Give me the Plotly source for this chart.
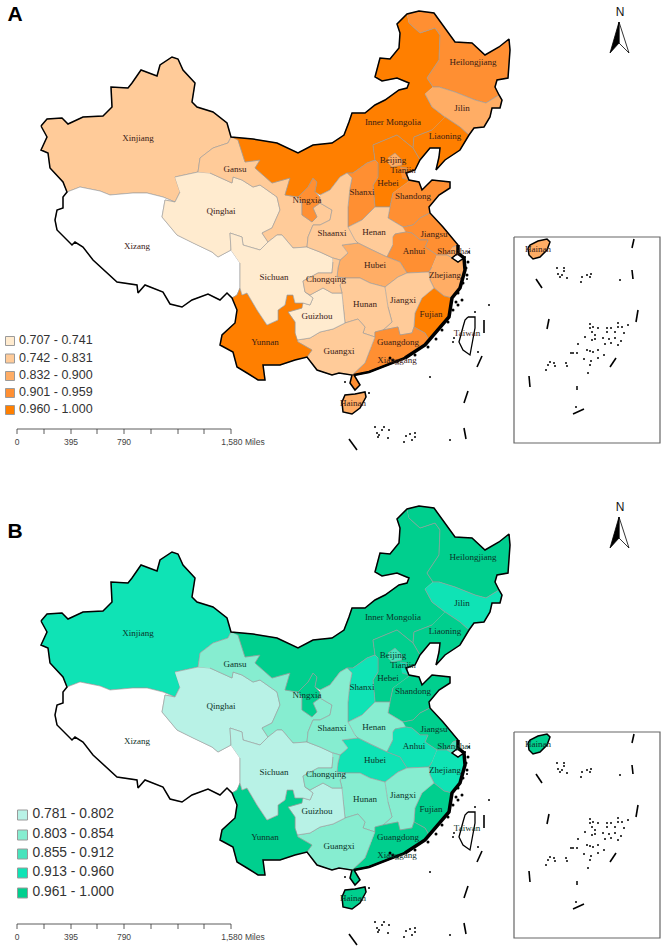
import plotly.graph_objects as go

# outlines, in map units (panel A pixels, panel B is the same map)
XINJIANG = [(41,126),(47,119),(62,118),(68,124),(83,117),(103,116),(112,107),(111,87),(128,88),(132,83),(141,70),(157,76),(160,65),(172,57),(178,59),(183,70),(195,83),(192,102),(197,107),(213,112),(227,123),(231,137),(228,143),(213,148),(200,158),(198,172),(175,177),(180,192),(175,202),(163,197),(147,193),(133,193),(110,195),(100,191),(80,187),(67,192),(63,182),(50,168),(48,153),(41,150),(47,137)]
XIZANG = [(67,192),(80,187),(100,191),(110,195),(133,193),(147,193),(163,197),(175,202),(165,200),(162,217),(177,235),(193,243),(212,252),(218,257),(231,250),(240,263),(240,288),(237,295),(232,298),(227,293),(220,300),(208,294),(192,300),(182,307),(170,304),(163,292),(145,285),(138,293),(137,285),(117,282),(100,267),(93,260),(83,247),(75,242),(72,245),(57,230),(55,220),(57,210),(63,208),(63,197)]
QINGHAI = [(175,177),(198,172),(210,173),(232,183),(233,177),(242,180),(253,187),(260,185),(277,197),(280,210),(272,228),(262,233),(268,242),(260,250),(243,245),(242,237),(230,233),(231,250),(218,257),(212,252),(193,243),(177,235),(162,217),(165,200),(175,202),(180,192)]
GANSU = [(198,172),(200,158),(213,148),(228,143),(231,137),(238,140),(245,162),(260,160),(255,168),(272,183),(290,178),(285,195),(298,197),(302,202),(302,215),(312,222),(317,217),(313,208),(320,203),(332,210),(330,220),(320,225),(313,225),(308,237),(307,247),(293,248),(282,235),(277,235),(268,242),(262,233),(272,228),(280,210),(277,197),(260,185),(253,187),(242,180),(233,177),(232,183),(210,173)]
NINGXIA = [(298,197),(308,187),(313,178),(317,182),(315,192),(320,197),(320,203),(313,208),(317,217),(312,222),(302,215),(302,202)]
INNER_MONGOLIA = [(231,137),(253,139),(277,143),(298,153),(313,145),(332,143),(344,135),(349,122),(352,113),(365,113),(375,105),(385,100),(399,90),(407,88),(409,83),(397,78),(382,81),(375,77),(380,58),(390,59),(399,48),(400,33),(397,24),(407,14),(409,23),(420,33),(435,28),(440,35),(439,60),(427,78),(433,87),(425,94),(432,107),(445,117),(432,130),(414,137),(413,148),(397,135),(373,145),(375,160),(367,163),(353,173),(347,173),(340,177),(330,190),(320,195),(315,192),(317,182),(313,178),(308,187),(298,197),(285,195),(290,178),(272,183),(255,168),(260,160),(245,162),(238,140)]
HEILONGJIANG = [(407,14),(419,11),(434,13),(445,28),(455,42),(472,43),(485,55),(499,47),(509,39),(510,50),(508,78),(497,80),(495,87),(499,95),(486,103),(475,100),(455,92),(439,87),(433,87),(427,78),(439,60),(440,35),(435,28),(420,33),(409,23)]
JILIN = [(433,87),(439,87),(455,92),(475,100),(486,103),(499,95),(502,100),(500,108),(492,108),(490,117),(484,127),(474,128),(469,135),(460,127),(445,117),(432,107),(425,94)]
LIAONING = [(445,117),(460,127),(469,135),(460,150),(445,160),(436,170),(439,157),(440,148),(430,148),(420,160),(413,148),(414,137),(432,130)]
HEBEI = [(375,160),(373,145),(397,135),(413,148),(420,160),(415,170),(406,173),(409,180),(408,182),(393,193),(390,207),(375,207),(373,185),(378,177),(378,163)]
BEIJING = [(388,158),(395,153),(402,160),(402,165),(392,167),(388,163)]
TIANJIN = [(400,167),(407,168),(406,173),(409,180),(402,178)]
SHANXI = [(347,173),(353,173),(367,163),(375,160),(378,163),(378,177),(373,185),(375,207),(362,220),(348,227),(348,207),(350,188),(352,178)]
SHANDONG = [(408,182),(409,180),(419,182),(422,190),(432,180),(450,182),(450,188),(439,195),(429,207),(430,213),(420,218),(413,225),(403,227),(388,218),(390,207),(393,193)]
HENAN = [(348,227),(362,220),(375,207),(390,207),(388,218),(403,227),(406,232),(395,234),(393,237),(393,245),(387,257),(372,250),(358,243),(355,240)]
JIANGSU = [(403,227),(413,225),(420,218),(430,213),(443,227),(452,238),(458,245),(453,247),(447,255),(437,255),(425,247),(428,240),(420,240),(412,233),(406,232)]
SHANGHAI = [(453,247),(458,245),(458,253),(452,258),(447,255)]
ANHUI = [(393,237),(395,234),(406,232),(412,233),(420,240),(428,240),(425,247),(437,255),(432,267),(429,272),(407,273),(400,262),(387,257),(393,245)]
HUBEI = [(342,245),(358,243),(372,250),(387,257),(400,262),(407,273),(398,277),(385,287),(370,283),(360,278),(345,278),(337,277),(338,268),(340,260),(348,253)]
ZHEJIANG = [(437,255),(447,255),(452,258),(458,262),(464,258),(465,270),(460,288),(452,298),(444,296),(434,288),(430,280),(429,272),(432,267)]
FUJIAN = [(434,288),(444,296),(452,298),(449,317),(435,333),(429,340),(425,333),(414,327),(415,313),(422,298)]
JIANGXI = [(385,287),(398,277),(407,273),(429,272),(430,280),(434,288),(422,298),(415,313),(414,327),(412,333),(400,335),(398,327),(383,330),(392,322),(388,307)]
HUNAN = [(342,293),(340,285),(345,278),(360,278),(370,283),(385,287),(388,307),(392,322),(383,330),(375,332),(375,337),(363,333),(365,327),(358,319),(345,323),(343,305)]
GUANGDONG = [(375,337),(375,332),(383,330),(398,327),(400,335),(412,333),(414,327),(425,333),(429,340),(425,345),(405,358),(392,363),(382,367),(369,372),(354,375),(360,385),(355,390),(350,383),(352,375),(365,363),(370,350)]
GUANGXI = [(297,340),(310,338),(320,332),(333,329),(345,323),(358,319),(365,327),(363,333),(375,337),(370,350),(365,363),(352,375),(339,373),(332,375),(317,370),(307,357),(312,350),(298,342)]
GUIZHOU = [(303,303),(310,305),(313,298),(305,292),(310,295),(323,288),(332,293),(342,293),(343,305),(345,323),(333,329),(320,332),(310,338),(297,340),(295,333),(295,322),(288,312),(302,308)]
YUNNAN = [(232,298),(237,295),(240,288),(242,295),(247,293),(257,310),(267,325),(278,320),(278,310),(285,305),(287,295),(293,295),(295,303),(303,303),(302,308),(288,312),(295,322),(295,333),(298,342),(312,350),(307,357),(295,360),(280,365),(263,365),(265,380),(258,380),(247,373),(237,367),(233,352),(220,345),(222,335),(235,323),(237,310)]
SICHUAN = [(231,250),(230,233),(242,237),(243,245),(260,250),(268,242),(277,235),(282,235),(293,248),(307,247),(320,252),(333,258),(333,262),(332,273),(318,273),(303,281),(305,292),(313,298),(310,305),(303,303),(295,303),(293,295),(287,295),(285,305),(278,310),(278,320),(267,325),(257,310),(247,293),(242,295),(240,288),(240,263)]
SHAANXI = [(320,195),(330,190),(340,177),(347,173),(352,178),(350,188),(348,207),(348,227),(355,240),(358,243),(342,245),(348,253),(340,260),(333,258),(320,252),(307,247),(308,237),(313,225),(320,225),(330,220),(332,210),(320,203),(320,197)]
CHONGQING = [(333,258),(340,260),(338,268),(337,277),(345,278),(340,285),(342,293),(332,293),(323,288),(310,295),(305,292),(303,281),(318,273),(332,273),(333,262)]
HAINAN = [(342,402),(345,395),(355,394),(365,392),(366,397),(360,408),(352,414),(343,412)]
HAINAN_INSET = [(528,248),(530,245),(538,241),(547,239),(550,242),(547,250),(540,257),(533,259),(529,255)]
TAIWAN = [(468,317),(475,317),(475,328),(470,355),(463,350),(459,342),(463,327),(465,320),(468,317)]

NATIONAL_BORDER = [(41,126),(47,119),(62,118),(68,124),(83,117),(103,116),(112,107),(111,87),(128,88),(132,83),(141,70),(157,76),(160,65),(172,57),(178,59),(183,70),(195,83),(192,102),(197,107),(213,112),(227,123),(231,137),(253,139),(277,143),(298,153),(313,145),(332,143),(344,135),(349,122),(352,113),(365,113),(375,105),(385,100),(399,90),(407,88),(409,83),(397,78),(382,81),(375,77),(380,58),(390,59),(399,48),(400,33),(397,24),(407,14),(419,11),(434,13),(445,28),(455,42),(472,43),(485,55),(499,47),(509,39),(510,50),(508,78),(497,80),(495,87),(499,95),(502,100),(500,108),(492,108),(490,117),(484,127),(474,128),(469,135),(460,150),(445,160),(436,170),(439,157),(440,148),(430,148),(420,160),(415,170),(406,173),(409,180),(419,182),(422,190),(432,180),(450,182),(450,188),(439,195),(429,207),(430,213),(443,227),(452,238),(458,245),(458,253),(452,258),(458,262),(464,258),(465,270),(460,288),(452,298),(449,317),(435,333),(425,345),(405,358),(392,363),(382,367),(369,372),(354,375),(360,385),(355,390),(350,383),(352,375),(339,373),(332,375),(317,370),(307,357),(295,360),(280,365),(263,365),(265,380),(258,380),(247,373),(237,367),(233,352),(220,345),(222,335),(235,323),(237,310),(232,298),(227,293),(220,300),(208,294),(192,300),(182,307),(170,304),(163,292),(145,285),(138,293),(137,285),(117,282),(100,267),(93,260),(83,247),(75,242),(72,245),(57,230),(55,220),(57,210),(63,208),(63,197),(67,192),(63,182),(50,168),(48,153),(41,150),(47,137),(41,126)]
EAST_COAST = [(458,245),(458,253),(464,258),(465,270),(460,288),(452,298),(449,317),(435,333),(425,345),(405,358)]
SOUTH_COAST = [(405,358),(392,363),(382,367),(369,372),(354,375)]
COAST_SPECKS = [(468,262),(466,268),(467,275),(463,283),(458,293),(456,302),(453,310),(448,322),(442,330),(436,339),(428,347),(415,355),(397,362),(390,358),(393,360),(462,300),(458,305)]

PROVINCES = ["Xinjiang", "Xizang", "Qinghai", "Gansu", "Ningxia", "Inner Mongolia", "Heilongjiang", "Jilin", "Liaoning", "Hebei", "Shanxi", "Shandong", "Henan", "Jiangsu", "Shanghai", "Anhui", "Hubei", "Zhejiang", "Fujian", "Jiangxi", "Hunan", "Guangdong", "Guangxi", "Guizhou", "Yunnan", "Sichuan", "Shaanxi", "Chongqing", "Hainan", "Beijing", "Tianjin"]
OUTLINES = [XINJIANG, XIZANG, QINGHAI, GANSU, NINGXIA, INNER_MONGOLIA, HEILONGJIANG, JILIN, LIAONING, HEBEI, SHANXI, SHANDONG, HENAN, JIANGSU, SHANGHAI, ANHUI, HUBEI, ZHEJIANG, FUJIAN, JIANGXI, HUNAN, GUANGDONG, GUANGXI, GUIZHOU, YUNNAN, SICHUAN, SHAANXI, CHONGQING, HAINAN, BEIJING, TIANJIN]

# legend class of each province, 0 = no data (white)
CLASS_A = [2, 0, 1, 2, 4, 5, 4, 3, 5, 5, 4, 4, 2, 4, 3, 4, 3, 3, 5, 2, 2, 4, 2, 1, 5, 1, 2, 2, 3, 3, 4]
CLASS_B = [4, 0, 1, 2, 5, 5, 5, 4, 5, 5, 4, 5, 2, 5, 3, 4, 4, 4, 5, 2, 2, 5, 2, 1, 5, 1, 2, 2, 5, 3, 4]

COLORS_A = ["#FFFFFF", "#FFEBCF", "#FFCB99", "#FFAD65", "#FF8F32", "#FF7F00"]
COLORS_B = ["#FFFFFF", "#B8F2E6", "#86EDD0", "#48E3BC", "#0FE3B5", "#00CF8E"]

LEGEND_A = ["0.707 - 0.741", "0.742 - 0.831", "0.832 - 0.900", "0.901 - 0.959", "0.960 - 1.000"]
LEGEND_B = ["0.781 - 0.802", "0.803 - 0.854", "0.855 - 0.912", "0.913 - 0.960", "0.961 - 1.000"]

LABELS = ["Xinjiang", "Gansu", "Qinghai", "Ningxia", "Xizang", "Sichuan", "Yunnan", "Guizhou", "Chongqing", "Guangxi", "Hunan", "Jiangxi", "Fujian", "Guangdong", "Xianggang", "Hainan", "Taiwan", "Hubei", "Anhui", "Henan", "Jiangsu", "Shanghai", "Zhejiang", "Shaanxi", "Shanxi", "Hebei", "Beijing", "Tianjin", "Shandong", "Liaoning", "Jilin", "Heilongjiang", "Inner Mongolia", "Hainan"]
LABEL_X = [138, 235, 221, 307, 137, 274, 265, 317, 326, 339, 365, 403, 431, 398, 397, 353, 467, 375, 414, 374, 434, 454, 445, 332, 362, 388, 393, 403, 413, 445, 462, 473, 393, 538]
LABEL_Y = [139, 170, 212, 201, 247, 278, 343, 317, 280, 352, 305, 301, 315, 343, 361, 404, 334, 266, 252, 233, 235, 252, 276, 234, 193, 184, 161, 171, 197, 137, 109, 63, 123, 250]

# nine-dash segments, Taiwan side and inset
DASHES = [[(349,439),(357,450)], [(464,428),(466,439)], [(468,391),(464,403)], [(482,356),(477,367)], [(484,320),(484,333)],
          [(634,239),(632,248)], [(632,270),(633,279)], [(536,279),(542,288)], [(638,310),(636,322)], [(549,319),(547,329)],
          [(616,358),(610,367)], [(529,376),(530,387)], [(584,409),(573,414)]]
ISLANDS = [(375,427),(377,433),(379,435),(378,437),(382,430),(389,430),(388,438),(384,427),(404,442),(406,436),(410,434),(415,433),(415,437),(412,440),(450,440),(430,377),(454,338),(453,342),(465,257),(469,252),(464,273),(467,279),(475,312),(489,305),(478,352),(345,382),(369,393),
           (557,268),(564,268),(564,271),(558,274),(560,277),(562,275),(567,278),(581,282),(582,277),(587,275),(591,274),(590,277),(620,280),
           (590,324),(590,328),(593,327),(598,328),(592,332),(595,335),(592,340),(595,339),(585,337),(607,328),(607,332),(611,328),(615,332),(618,323),(618,327),(622,327),(628,325),(624,333),(603,338),(609,339),(615,338),(621,341),(605,344),(611,343),(618,345),(578,344),
           (571,353),(573,353),(577,353),(587,350),(590,351),(593,352),(598,350),(604,355),(598,358),(584,359),(591,361),(590,365),(546,370),(548,365),(550,362),(554,363),(555,366),(567,366),(566,363),(588,373),(577,387),(577,389),(576,407)]

INSET_BOX = [(514,237),(660,237),(660,443),(514,443),(514,237)]
ARROW_LEFT = [(619,22),(610,53),(619,43)]
ARROW_RIGHT = [(619,22),(629,53),(619,43)]

SCALE_X = [17, 44, 71, 97, 124, 151, 178, 204, 231]
SCALE_Y = 429
SCALE_TEXT = ["0", "395", "790", "1,580 Miles"]
SCALE_TEXT_X = [17, 71, 124, 243]

PANEL_H_A = 495
PANEL_H_B = 457


def xy(pts):
    return [p[0] for p in pts], [p[1] for p in pts]


def add_panel(fig, xa, ya, classes, colors, legend, leg_y, leg_x, leg_size, leg_font, text_color, letter, letter_y):
    ax = dict(xaxis=xa, yaxis=ya, hoverinfo="skip", showlegend=False)
    for pts, c in zip(OUTLINES, classes):
        x, y = xy(pts)
        fig.add_trace(go.Scatter(x=x, y=y, mode="lines", fill="toself", fillcolor=colors[c],
                                 line=dict(color="#999999", width=0.6), **ax))

    x, y = xy(NATIONAL_BORDER)
    fig.add_trace(go.Scatter(x=x, y=y, mode="lines", line=dict(color="black", width=1.5), **ax))
    x, y = xy(EAST_COAST)
    fig.add_trace(go.Scatter(x=x, y=y, mode="lines", line=dict(color="black", width=3.5), **ax))
    x, y = xy(SOUTH_COAST)
    fig.add_trace(go.Scatter(x=x, y=y, mode="lines", line=dict(color="black", width=2.5), **ax))
    x, y = xy(COAST_SPECKS)
    fig.add_trace(go.Scatter(x=x, y=y, mode="markers", marker=dict(color="black", size=3), **ax))

    # Hainan on the main map and in the inset
    x, y = xy(HAINAN)
    fig.add_trace(go.Scatter(x=x + x[:1], y=y + y[:1], mode="lines", line=dict(color="black", width=1.5), **ax))
    x, y = xy(HAINAN_INSET)
    fig.add_trace(go.Scatter(x=x + x[:1], y=y + y[:1], mode="lines", fill="toself",
                             fillcolor=colors[classes[PROVINCES.index("Hainan")]],
                             line=dict(color="black", width=1.5), **ax))
    x, y = xy(TAIWAN)
    fig.add_trace(go.Scatter(x=x, y=y, mode="lines", line=dict(color="black", width=1.3), **ax))
    for seg in DASHES:
        x, y = xy(seg)
        fig.add_trace(go.Scatter(x=x, y=y, mode="lines", line=dict(color="black", width=1.6), **ax))
    x, y = xy(ISLANDS)
    fig.add_trace(go.Scatter(x=x, y=y, mode="markers", marker=dict(color="black", size=2), **ax))

    x, y = xy(INSET_BOX)
    fig.add_trace(go.Scatter(x=x, y=y, mode="lines", line=dict(color="#666666", width=1.2), **ax))

    # north arrow
    x, y = xy(ARROW_RIGHT)
    fig.add_trace(go.Scatter(x=x + x[:1], y=y + y[:1], mode="lines", fill="toself", fillcolor="white",
                             line=dict(color="black", width=0.8), **ax))
    x, y = xy(ARROW_LEFT)
    fig.add_trace(go.Scatter(x=x + x[:1], y=y + y[:1], mode="lines", fill="toself", fillcolor="black",
                             line=dict(color="black", width=0.8), **ax))
    fig.add_trace(go.Scatter(x=[620], y=[13], mode="text", text=["N"], cliponaxis=False,
                             textfont=dict(family="Liberation Sans", size=12, color="#111111"), **ax))

    # scale bar
    sx, sy = [SCALE_X[0], SCALE_X[-1], None], [SCALE_Y, SCALE_Y, None]
    for t in SCALE_X:
        sx += [t, t, None]
        sy += [SCALE_Y, SCALE_Y + 5, None]
    fig.add_trace(go.Scatter(x=sx, y=sy, mode="lines", line=dict(color="#333333", width=0.8), **ax))
    fig.add_trace(go.Scatter(x=SCALE_TEXT_X, y=[SCALE_Y + 14] * 4, mode="text", text=SCALE_TEXT,
                             textfont=dict(family="Liberation Sans", size=8.5, color="#444444"), **ax))

    # province names
    fig.add_trace(go.Scatter(x=LABEL_X, y=LABEL_Y, mode="text", text=LABELS,
                             textfont=dict(family="Liberation Serif", size=9, color=text_color), **ax))

    # class legend
    fig.add_trace(go.Scatter(x=[leg_x] * 5, y=leg_y, mode="markers",
                             marker=dict(symbol="square", size=leg_size, color=colors[1:],
                                         line=dict(color="#9a9a9a", width=1)), **ax))
    fig.add_trace(go.Scatter(x=[leg_x + leg_size] * 5, y=leg_y, mode="text", text=legend, textposition="middle right",
                             textfont=dict(family="Liberation Sans", size=leg_font, color="#333333"), **ax))

    fig.add_trace(go.Scatter(x=[15], y=[letter_y], mode="text", text=["<b>" + letter + "</b>"],
                             textfont=dict(family="Liberation Sans", size=21, color="black"), **ax))


fig = go.Figure()
add_panel(fig, "x", "y", CLASS_A, COLORS_A, LEGEND_A, [341, 358.5, 376, 393, 410], 10, 9, 12.5, "#3a2015", "A", 16)
add_panel(fig, "x2", "y2", CLASS_B, COLORS_B, LEGEND_B, [320, 340, 359, 378, 398], 22.5, 10, 13.8, "#0c3329", "B", 38)

noaxis = dict(visible=False, fixedrange=True)
split = PANEL_H_B / 952
fig.update_layout(
    width=664, height=952, margin=dict(l=0, r=0, t=0, b=0),
    plot_bgcolor="white", paper_bgcolor="white", showlegend=False,
    xaxis=dict(range=[0, 664], domain=[0, 1], **noaxis),
    xaxis2=dict(range=[0, 664], domain=[0, 1], **noaxis),
    yaxis=dict(range=[PANEL_H_A, 0], domain=[split, 1], **noaxis),
    yaxis2=dict(range=[PANEL_H_B, 0], domain=[0, split], **noaxis),
)

fig.write_html("out.html", post_script="document.body.style.margin='0';", config={"displayModeBar": False})
